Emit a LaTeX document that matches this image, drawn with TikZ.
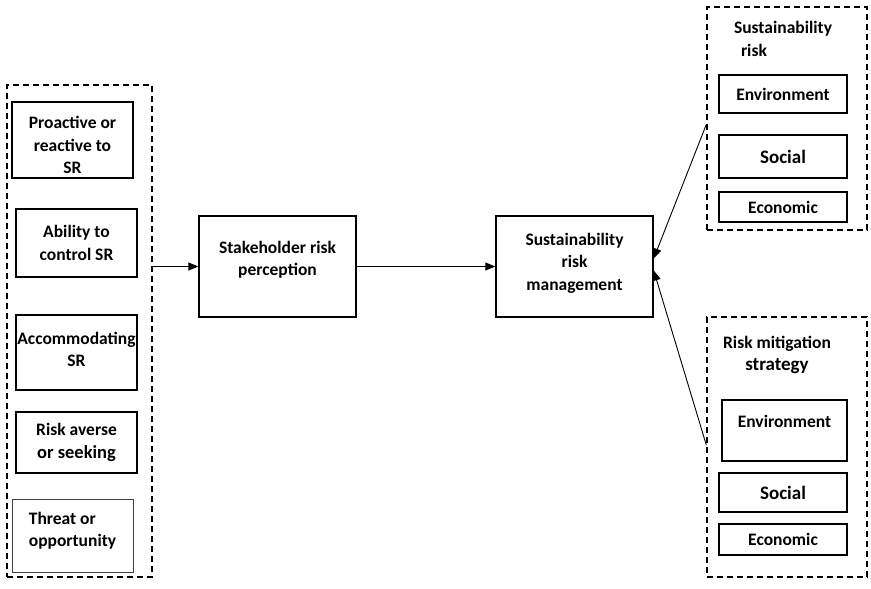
\documentclass[tikz,border=0pt]{standalone}
\usepackage{fontspec}
\setmainfont{Carlito}
\usepackage{tikz}
\usetikzlibrary{calc,positioning,arrows.meta}
\tikzset{
    >={Triangle[length=10pt,width=8pt]},
    factor/.style={
        rectangle,
        draw, line width=1.4pt,
        inner sep=1pt,
        align=center
    },
    group/.style={
        rectangle,
        draw, line width=1.4pt,
        dash pattern=on 6pt off 4pt
    },
    line/.style={draw, line width=0.9pt, ->},
    font={\bfseries\fontsize{17.5pt}{22.5pt}\selectfont},
}
\begin{document}
\begin{tikzpicture}
[
    x=1pt, y=-1pt,
    big/.style={font={\bfseries\fontsize{19pt}{22.5pt}\selectfont}},
    thin/.style={line width=0.8pt, draw=black!75},
]
\useasboundingbox (0,0) rectangle (871,589);
% left column
\node (factors) at (79.5,331) [group, minimum width=145, minimum height=492]{};
\node (proact) at (72.5,140) [factor, minimum width=121, minimum height=76]{Proactive or\\reactive to\\SR\\[-32.5pt]};
\node (control) at (76.5,243) [factor, minimum width=121, minimum height=68]{Ability to\\control SR};
\node (accom) at (76.5,352.5) [factor, minimum width=121, minimum height=75]{Accommodating\\SR\\[-16.5pt]};
\node (averse) at (76.5,442.5) [factor, minimum width=121, minimum height=61]{Risk averse\\{\fontsize{18.5pt}{22.5pt}\selectfont or seeking}};
\node (threat) at (72.5,535.5) [factor, thin, align=left, minimum width=121, minimum height=73]{Threat or\\opportunity\\[-10.5pt]};
% middle
\node (percep) at (277.5,266.5) [factor, minimum width=157, minimum height=101]{Stakeholder risk\\perception\\[-6.5pt]};
\node (srm) at (574.5,266.5) [factor, minimum width=157, minimum height=101]{Sustainability\\risk\\management\\[-12.5pt]};
% right, top
\node (srisk) at (787,118.5) [group, minimum width=160, minimum height=223]{};
\node (sriskt) at (783,39) [align=left]{Sustainability\\\hspace*{7pt}risk};
\node (env1) at (783,94) [factor, minimum width=128, minimum height=38]{Environment};
\node (soc1) at (783,156.5) [factor, big, minimum width=128, minimum height=43]{Social};
\node (eco1) at (783,207) [factor, minimum width=128, minimum height=30]{Economic};
% right, bottom
\node (mitig) at (787,447) [group, minimum width=160, minimum height=260]{};
\node (mitigt) at (777,355) [align=center]{Risk mitigation\\{\fontsize{19pt}{22.5pt}\selectfont strategy}};
\node (env2) at (784.5,430.5) [factor, minimum width=125, minimum height=61]{Environment\\[-5pt]};
\node (soc2) at (783,492.5) [factor, big, minimum width=128, minimum height=39]{Social};
\node (eco2) at (783,539.5) [factor, minimum width=128, minimum height=31]{Economic};
% connectors
\draw[line] (factors.east |- percep) -- (percep);
\draw[line] (percep) -- (srm);
\draw[line] ([yshift=-6pt]srisk.west) -- ([yshift=8pt]srm.east);
\draw[line] ([yshift=2pt]mitig.west) -- ([yshift=-4pt]srm.east);
\end{tikzpicture}
\end{document}
